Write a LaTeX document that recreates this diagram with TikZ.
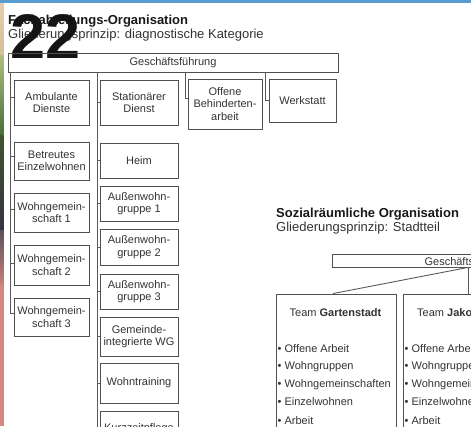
\documentclass[tikz,border=0pt]{standalone}
\usepackage{fontspec}
\setmainfont{Liberation Sans}
\usetikzlibrary{calc}
\definecolor{boxgray}{HTML}{505050}
\definecolor{linegray}{HTML}{5A5A5A}
\definecolor{txtgray}{HTML}{333333}
\definecolor{topblue}{HTML}{5A9BD0}
\definecolor{stripa}{RGB}{232,206,176}
\definecolor{stripb}{RGB}{214,190,150}
\definecolor{stripc}{RGB}{176,190,130}
\definecolor{stripd}{RGB}{70,112,56}
\definecolor{stripe}{RGB}{66,84,48}
\definecolor{stripf}{RGB}{52,52,66}
\definecolor{stripg}{RGB}{90,80,90}
\definecolor{striph}{RGB}{200,130,122}
\definecolor{stripi}{RGB}{212,136,128}
\newcommand\obox[6]{\node[bx,minimum width={#4pt-#2pt},minimum height={#5pt-#3pt}] (#1) at ({(#2+#4)/2},{(#3+#5)/2}) {#6};}
\tikzset{
  bx/.style={draw=boxgray, line width=0.9pt, inner sep=0pt, align=center, text=txtgray, font=\fontsize{11}{12.5}\selectfont},
  conn/.style={draw=linegray, line width=0.9pt},
  lbl/.style={anchor=base west, inner sep=0pt, text=txtgray, font=\fontsize{11}{13}\selectfont},
  ttl/.style={anchor=base west, inner sep=0pt, text=black!90, font=\bfseries\fontsize{13}{15}\selectfont},
  subttl/.style={anchor=base west, inner sep=0pt, text=txtgray, font=\fontsize{13}{15}\selectfont},
}
\begin{document}
\begin{tikzpicture}[x=1pt,y=-1pt]
\useasboundingbox (0,0) rectangle (471,426);
\clip (0,0) rectangle (471,426);
\fill[white] (0,0) rectangle (471,426);
% left colour strip and top blue line
\shade[top color=stripa, bottom color=stripb] (0,0) rectangle (3.5,55);
\shade[top color=stripc, bottom color=stripd] (0,55) rectangle (3.5,135);
\shade[top color=stripe, bottom color=stripf] (0,135) rectangle (3.5,230);
\shade[top color=stripg, bottom color=striph] (0,230) rectangle (3.5,285);
\fill[stripi] (0,285) rectangle (3.5,426);
\fill[topblue] (0,0) rectangle (471,2.5);

% titles
\node[ttl] (t1) at (8,24) {Fachabteilungs-Organisation};
\node[subttl] (t1s) at (8,38) {Gliederungsprinzip: diagnostische Kategorie};
\node[anchor=base west, inner sep=0pt, text=black!92, font=\bfseries\fontsize{63}{63}\selectfont] (num) at (10,58) {22};

% left organisation
\obox{gf}{8}{53}{338}{72}{Geschäftsführung}
\obox{amb}{14}{80}{89}{125}{Ambulante\\Dienste}
\obox{bew}{14}{142}{89}{180}{Betreutes\\Einzelwohnen}
\obox{wga}{14}{193}{89}{232}{Wohngemein-\\schaft 1}
\obox{wgb}{14}{245}{89}{285}{Wohngemein-\\schaft 2}
\obox{wgc}{14}{298}{89}{336}{Wohngemein-\\schaft 3}
\obox{sta}{100}{80}{178}{125}{Stationärer\\Dienst}
\obox{heim}{100}{143}{178}{178}{Heim}
\obox{awa}{100}{186}{178}{221}{Außenwohn-\\gruppe 1}
\obox{awb}{100}{229}{178}{265}{Außenwohn-\\gruppe 2}
\obox{awc}{100}{274}{178}{309}{Außenwohn-\\gruppe 3}
\obox{gwg}{100}{317}{178}{356}{Gemeinde-\\integrierte WG}
\obox{wt}{100}{363}{178}{403}{Wohntraining}
\obox{kzp}{100}{411}{178}{446}{Kurzzeitpflege}
\obox{obh}{188}{79}{262}{129}{Offene\\Behinderten-\\arbeit}
\obox{werk}{269}{79}{336}{122}{Werkstatt}

\coordinate (sa) at ($(gf.south west)+(3,0)$);
\coordinate (sb) at (gf.south west -| 97,0);
\coordinate (sc) at (gf.south west -| 185,0);
\coordinate (sd) at (gf.south west -| 265,0);

\draw[conn] (sa) |- ($(wgc.west)+(0,-4)$);
\foreach \n/\d in {amb/-5,bew/-5,wga/-3,wgb/-2}
  \draw[conn] ($(sa |- \n.west)+(0,\d)$) -- ($(\n.west)+(0,\d)$);
\draw[conn] (sb) -- (sb |- kzp.south);
\foreach \n in {sta,heim,awa,awb,awc,gwg,wt,kzp}
  \draw[conn] (sb |- \n.west) -- (\n.west);
\draw[conn] (sc) |- ($(obh.west)+(0,-6)$);
\draw[conn] (sd) |- (werk.west);

% right organisation
\node[ttl] (t2) at (276,217) {Sozialräumliche Organisation};
\node[subttl] (t2s) at (276,231) {Gliederungsprinzip: Stadtteil};

\obox{gfr}{332}{254}{604}{267}{}
\node[anchor=base, inner sep=0pt, text=txtgray, font=\fontsize{11}{13}\selectfont] (gfrt) at (468,265) {Geschäftsführung};
\obox{tg}{276}{294}{396}{520}{}
\obox{tj}{403}{294}{523}{520}{}
\draw[conn] (gfr.south) -- ($(tg.north)+(-3,0)$);
\draw[conn] (gfr.south) -- (gfr.south |- tj.north);

\node[anchor=base, inner sep=0pt, text=txtgray, font=\fontsize{11}{13}\selectfont] (tgt) at (335.5,316) {Team \textbf{Gartenstadt}};
\node[lbl] (tjt) at (417,316) {Team \textbf{Jakob}};

\foreach \y/\t [count=\i] in {352/Offene Arbeit,369/Wohngruppen,387/Wohngemeinschaften,405/Einzelwohnen,424/Arbeit}{
  \node[lbl] (ga\i) at (277.5,\y) {\textbullet\ \t};
  \node[lbl] (ja\i) at (404.5,\y) {\textbullet\ \t};
}
\end{tikzpicture}
\end{document}
